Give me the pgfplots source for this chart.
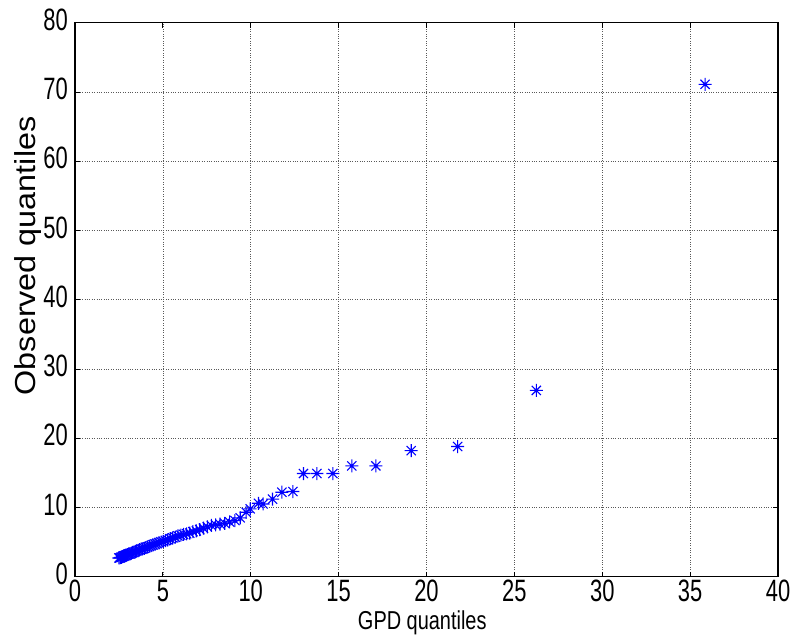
\documentclass[border=0pt]{standalone}
\usepackage{pgfplots}
\pgfplotsset{compat=1.18}
\usepackage{fontspec}
\setmainfont{Liberation Sans}
\newfontfamily\ticknarrow[FakeStretch=0.71]{Liberation Sans}
\newfontfamily\xlabfont[FakeStretch=0.77]{Liberation Sans}
\newfontfamily\ylabfont[FakeStretch=1.12]{Liberation Sans}

% eight-armed asterisk: a plus and a cross drawn together
\pgfdeclareplotmark{starplus}{%
  \pgfpathmoveto{\pgfqpoint{-\pgfplotmarksize}{0pt}}%
  \pgfpathlineto{\pgfqpoint{\pgfplotmarksize}{0pt}}%
  \pgfpathmoveto{\pgfqpoint{0pt}{-\pgfplotmarksize}}%
  \pgfpathlineto{\pgfqpoint{0pt}{\pgfplotmarksize}}%
  \pgfpathmoveto{\pgfqpoint{-0.707\pgfplotmarksize}{-0.707\pgfplotmarksize}}%
  \pgfpathlineto{\pgfqpoint{0.707\pgfplotmarksize}{0.707\pgfplotmarksize}}%
  \pgfpathmoveto{\pgfqpoint{-0.707\pgfplotmarksize}{0.707\pgfplotmarksize}}%
  \pgfpathlineto{\pgfqpoint{0.707\pgfplotmarksize}{-0.707\pgfplotmarksize}}%
  \pgfusepathqstroke}

\definecolor{mblue}{RGB}{0,0,255}

\begin{document}
\begin{tikzpicture}
\begin{axis}[
  scale only axis,
  width=703bp, height=554bp,
  xmin=0, xmax=40, ymin=0, ymax=80,
  xtick={0,5,...,40}, ytick={0,10,...,80},
  /pgf/number format/assume math mode=true,
  grid=major,
  grid style={dotted, black!65, line width=0.6bp},
  axis line style={line width=1.1bp},
  tick align=inside,
  major tick length=5bp,
  tick style={black, line width=0.8bp},
  xticklabel style={font=\ticknarrow\fontsize{31}{31}\selectfont, anchor=north, inner sep=0pt, yshift=-3.5bp},
  yticklabel style={font=\ticknarrow\fontsize{31}{31}\selectfont, anchor=east, inner sep=0pt, xshift=-7bp, yshift=3bp},
  xlabel={GPD quantiles},
  ylabel={Observed quantiles},
  xlabel style={font=\xlabfont\fontsize{26}{26}\selectfont, at={(axis description cs:0.494,-0.0957)}, anchor=base, inner sep=0pt},
  ylabel style={font=\ylabfont\fontsize{29}{29}\selectfont, at={(axis description cs:-0.056,0.579)}, anchor=base, inner sep=0pt},
]
\addplot[only marks, mark=starplus, mark size=6.5bp, mark options={mblue, line width=1.1bp}] coordinates {
  (2.50,2.7) (2.55,2.7) (2.60,2.8) (2.65,2.8) (2.70,2.9) (2.76,3.0)
  (2.82,3.0) (2.88,3.1) (2.94,3.1) (3.00,3.2) (3.07,3.3) (3.14,3.3)
  (3.21,3.4) (3.28,3.5) (3.35,3.5) (3.43,3.6) (3.51,3.7) (3.59,3.8)
  (3.67,3.9) (3.76,4.0) (3.85,4.0) (3.94,4.1) (4.03,4.2) (4.13,4.3)
  (4.23,4.4) (4.33,4.5) (4.44,4.6) (4.55,4.7) (4.66,4.8) (4.78,4.9)
  (4.90,5.0) (5.02,5.1) (5.15,5.2) (5.28,5.3) (5.42,5.5) (5.56,5.6)
  (5.71,5.7) (5.86,5.9) (6.02,6.0) (6.18,6.1) (6.35,6.2) (6.53,6.3)
  (6.71,6.5) (6.90,6.6) (7.10,6.8) (7.31,7.0) (7.53,7.2) (7.76,7.4)
  (8.00,7.5) (8.25,7.6) (8.52,7.7) (8.80,7.9) (9.10,8.1) (9.40,8.5)
  (9.74,9.3) (9.97,9.8) (10.44,10.6) (10.70,10.5) (11.24,11.2)
  (11.77,12.2) (12.40,12.3) (13.00,14.9) (13.76,14.9) (14.67,14.9)
  (15.75,16.0) (17.12,16.0) (19.13,18.2) (21.77,18.8) (26.25,26.9)
  (35.85,71.1)
};
\coordinate (sw) at (rel axis cs:0,0);
\coordinate (ne) at (rel axis cs:1,1);
\end{axis}
\path ([xshift=-75bp,yshift=-63.3bp]sw) rectangle ([xshift=14bp,yshift=22.7bp]ne);
\end{tikzpicture}
\end{document}
